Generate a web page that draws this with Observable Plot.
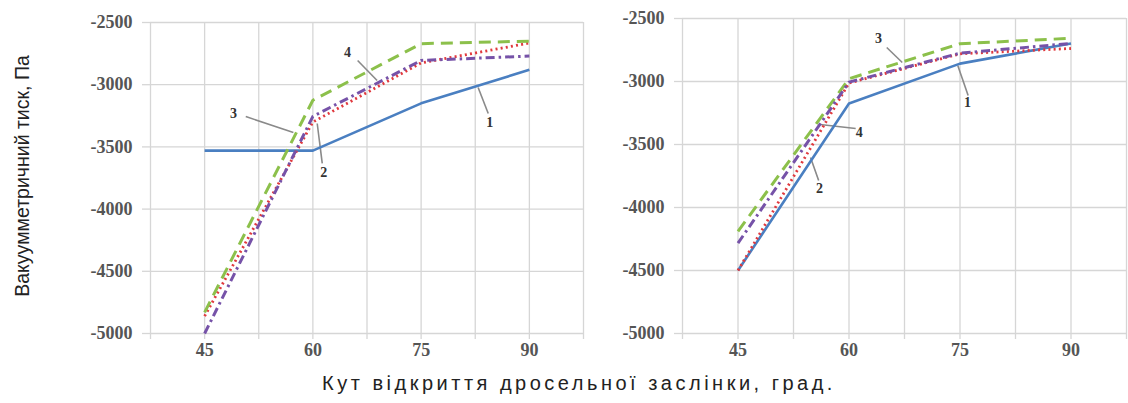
<!DOCTYPE html>
<html>
<head>
<meta charset="utf-8">
<script src="https://cdn.jsdelivr.net/npm/d3@7"></script>
<script src="https://cdn.jsdelivr.net/npm/@observablehq/plot@0.6"></script>
<style>
  html, body { margin: 0; padding: 0; background: #fff; }
  #root { position: relative; width: 1128px; height: 403px; overflow: hidden; background: #fff; }
  #left { position: absolute; left: 0; top: 0; }
  #right { position: absolute; left: 590px; top: 0; }
  #root svg text.ticklab { letter-spacing: 1.8px; }
  #ytitle { position: absolute; left: 22px; top: 176px; transform: translate(-50%, -50%) rotate(-90deg);
            white-space: nowrap; font-family: "Liberation Sans", Arial, sans-serif; font-size: 19.5px; color: #222; }
  #xtitle { position: absolute; left: 579px; top: 383px; transform: translate(-50%, -50%);
            white-space: nowrap; font-family: "Liberation Sans", Arial, sans-serif; font-size: 20px; letter-spacing: 3.5px; color: #222; }
</style>
</head>
<body>
<div id="root">
  <div id="left"></div>
  <div id="right"></div>
  <div id="ytitle">Вакуумметричний тиск, Па</div>
  <div id="xtitle">Кут відкриття дросельної заслінки, град.</div>
</div>
<script>
// ---- data ----
const angles = [45, 60, 75, 90];
const xTickLabels = [45, 60, 75, 90];
const xGrid = [37.5, 45, 52.5, 60, 67.5, 75, 82.5, 90, 97.5];
const yTicks = [-5000, -4500, -4000, -3500, -3000, -2500];
const seriesNames = ["1", "2", "3", "4"];

// left panel
const left1 = [-3530, -3530, -3150, -2880];
const left2 = [-4860, -3300, -2825, -2665];
const left3 = [-4830, -3125, -2670, -2650];
const left4 = [-5000, -3255, -2805, -2770];
// right panel
const right1 = [-4500, -3175, -2858, -2698];
const right2 = [-4500, -3012, -2780, -2738];
const right3 = [-4190, -2978, -2700, -2657];
const right4 = [-4283, -3005, -2775, -2698];

// annotation labels (order: 1,2,3,4) in data units
const leftLabelX = [84.5, 61.5, 49.0, 64.8];
const leftLabelY = [-3304, -3706, -3231, -2741];
const leftLeadX1 = [84.3, 61.3, 50.7, 66.2];
const leftLeadY1 = [-3231, -3633, -3256, -2805];
const leftLeadX2 = [82.9, 60.6, 57.3, 68.9];
const leftLeadY2 = [-3022, -3312, -3384, -2966];

const rightLabelX = [76.0, 56.0, 64.0, 61.4];
const rightLabelY = [-3167, -3849, -2659, -3405];
const rightLeadX1 = [76.1, 55.9, 65.1, 60.9];
const rightLeadY1 = [-3111, -3786, -2730, -3373];
const rightLeadX2 = [74.7, 54.8, 67.2, 56.1];
const rightLeadY2 = [-2873, -3603, -2849, -3341];

// ---- styles ----
const seriesStyle = {
  "1": {stroke: "#4a7fc1", dash: null, width: 2.6, cap: "butt"},
  "2": {stroke: "#e0393e", dash: "2,3.2", width: 2.8, cap: "butt"},
  "3": {stroke: "#8cc04b", dash: "12,7", width: 3, cap: "butt"},
  "4": {stroke: "#7652a8", dash: "9,4,2.5,4", width: 3, cap: "butt"}
};
const gridColor = "#d6d6d6";
const serif = "Liberation Serif, Times New Roman, serif";

function buildRows(arrs) {
  const rows = [];
  arrs.forEach((vals, si) => {
    vals.forEach((v, i) => rows.push({series: seriesNames[si], angle: angles[i], value: v}));
  });
  return rows;
}

function buildPanel(cfg) {
  const rows = buildRows(cfg.series);
  const leaders = seriesNames.map((n, i) => ({x1: cfg.lx1[i], y1: cfg.ly1[i], x2: cfg.lx2[i], y2: cfg.ly2[i]}));
  const labels = seriesNames.map((n, i) => ({n, x: cfg.labX[i], y: cfg.labY[i]}));
  const marks = [
    Plot.gridX(xGrid, {stroke: gridColor, strokeOpacity: 1, strokeWidth: 1.3}),
    Plot.gridY(yTicks, {stroke: gridColor, strokeOpacity: 1, strokeWidth: 1.3}),
    Plot.axisX(xGrid, {tickSize: 6, stroke: gridColor, strokeWidth: 1.3, tickFormat: () => ""}),
    Plot.axisY(yTicks, {tickSize: 8, stroke: gridColor, strokeWidth: 1.3, tickFormat: () => "", label: null}),
    // tick labels as text marks (serif)
    Plot.text(xTickLabels, {x: d => d, text: d => String(d), frameAnchor: "bottom", dy: 22,
      fill: "#555", fontSize: 18, fontWeight: "bold", fontFamily: serif, className: "ticklab"}),
    Plot.text(yTicks, {y: d => d, text: d => String(d), frameAnchor: "left", dx: -18, textAnchor: "end",
      fill: "#555", fontSize: 18, fontWeight: "bold", fontFamily: serif, className: "ticklab"}),
    Plot.link(leaders, {x1: "x1", y1: "y1", x2: "x2", y2: "y2", stroke: "#8a8a8a", strokeWidth: 1.6})
  ];
  for (const s of seriesNames) {
    const st = seriesStyle[s];
    marks.push(Plot.line(rows.filter(r => r.series === s), {
      x: "angle", y: "value", stroke: st.stroke, strokeWidth: st.width,
      strokeDasharray: st.dash, strokeLinecap: st.cap, strokeLinejoin: "round"
    }));
  }
  marks.push(Plot.text(labels, {x: "x", y: "y", text: "n", fill: "#333", fontSize: 14, fontWeight: "bold", fontFamily: serif}));
  return Plot.plot({
    width: cfg.width, height: 373,
    marginLeft: cfg.marginLeft, marginRight: cfg.marginRight,
    marginTop: cfg.marginTop, marginBottom: 40,
    x: {domain: [37.5, 97.5], axis: null},
    y: {domain: [-5000, -2500], axis: null},
    style: {background: "transparent", overflow: "visible"},
    marks
  });
}

document.getElementById("left").appendChild(buildPanel({
  width: 590, marginLeft: 150, marginRight: 7, marginTop: 22,
  series: [left1, left2, left3, left4],
  labX: leftLabelX, labY: leftLabelY, lx1: leftLeadX1, ly1: leftLeadY1, lx2: leftLeadX2, ly2: leftLeadY2
}));
document.getElementById("right").appendChild(buildPanel({
  width: 538, marginLeft: 92, marginRight: 2, marginTop: 18,
  series: [right1, right2, right3, right4],
  labX: rightLabelX, labY: rightLabelY, lx1: rightLeadX1, ly1: rightLeadY1, lx2: rightLeadX2, ly2: rightLeadY2
}));
</script>
</body>
</html>
